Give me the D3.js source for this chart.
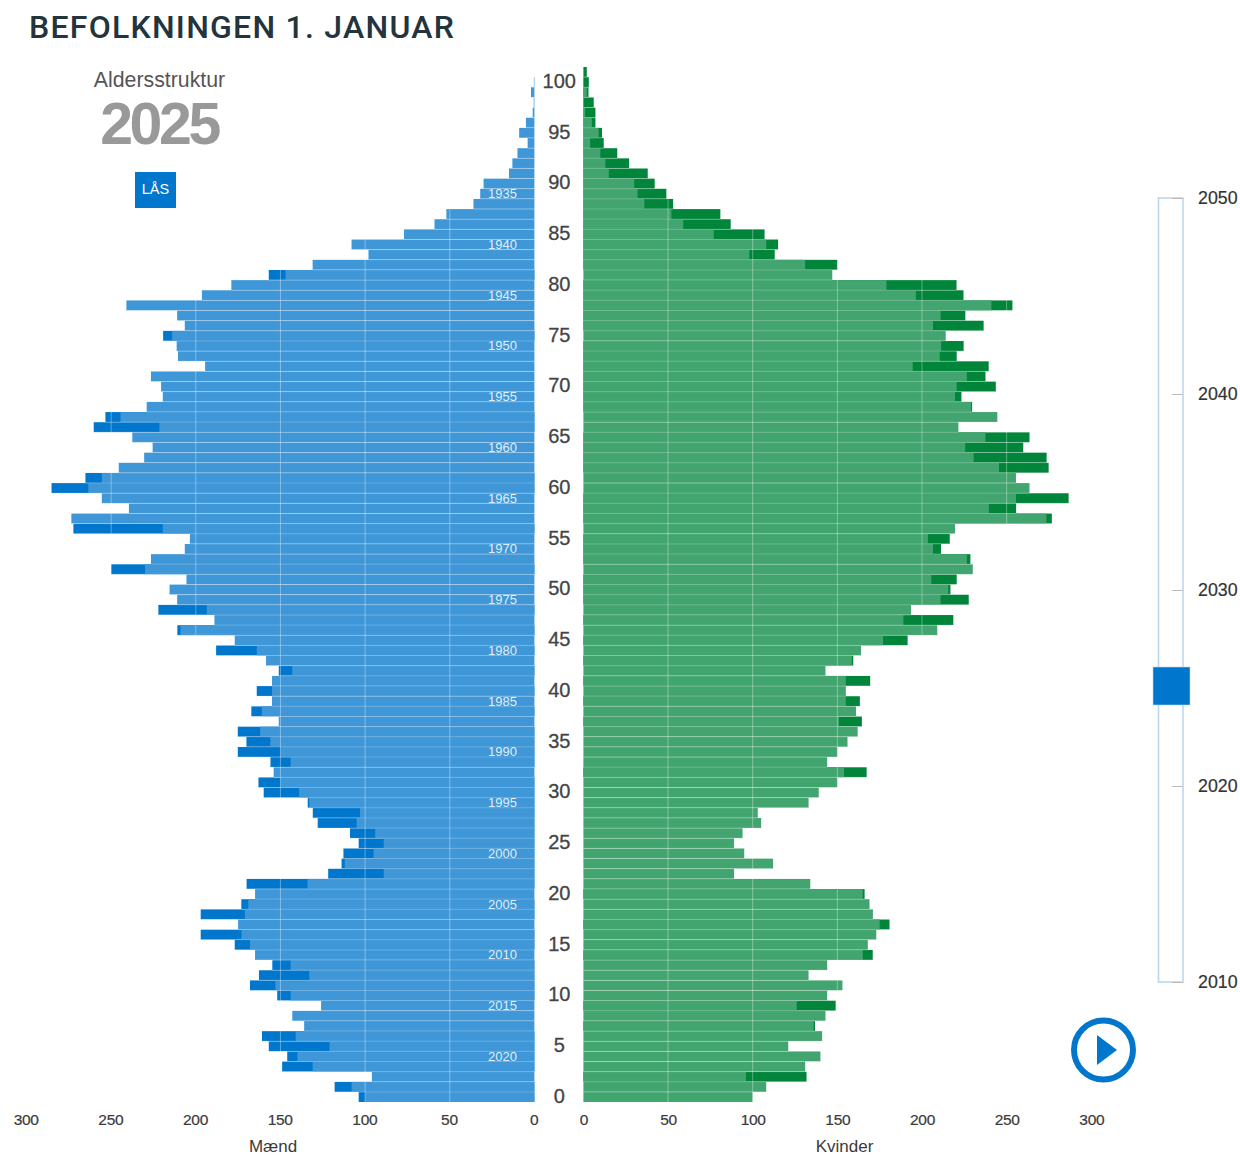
<!DOCTYPE html>
<html lang="da">
<head>
<meta charset="utf-8">
<title>Befolkningen 1. januar</title>
<script src="https://cdn.jsdelivr.net/npm/d3@7"></script>
<style>
  html, body { margin: 0; padding: 0; background: #fff; }
  svg { display: block; }
  text { font-family: "Liberation Sans", Arial, sans-serif; }
</style>
</head>
<body>
<div id="chart"></div>
<script>
// Alle rækker er sorteret efter alder 0..101
const overlay = [
  100, 108, 96, 131, 140, 121, 141, 136, 143, 126,
  144, 153, 133, 144, 165, 168, 173, 175, 171, 169,
  165, 134, 89, 112, 95, 89, 94, 105, 103, 133,
  139, 150, 154, 144, 150, 156, 162, 151, 161, 155,
  155, 155, 143, 158.5, 164, 177, 209, 189, 193.5, 211,
  215.5, 205.5, 230, 226.5, 206.5, 203.5, 219.5, 273.5, 239.5, 255.5,
  263.5, 255.5, 245.5, 230.5, 225.5, 237.5, 221.5, 244.5, 229, 219.5,
  220.5, 226.5, 194.5, 210.5, 211.3, 214, 206.5, 211, 241, 196.4,
  179, 147, 131, 98, 108, 77, 59, 52, 36, 32,
  30, 15, 13, 10, 4, 9, 5, 1, 0.4, 2,
  0.3, 0
];
const males = [
  103.8, 118, 96, 149, 146, 156.9, 160.9, 136, 143, 126,
  151.9, 168, 162.7, 154.8, 165, 177, 197.1, 175, 197.1, 173.1,
  165, 170, 121.8, 113.9, 112.8, 103.8, 108.9, 128, 130.9, 133.9,
  159.9, 163, 154, 155.9, 175.2, 170.1, 175.2, 151, 167.2, 155,
  164, 155, 151, 158.5, 188, 177, 210.9, 189, 222.1, 211,
  215.5, 205.5, 250, 226.5, 206.5, 203.5, 272.3, 273.5, 239.5, 255.5,
  285.2, 265.2, 245.5, 230.5, 225.5, 237.5, 260.3, 253.4, 229, 219.5,
  220.5, 226.5, 194.5, 210.5, 211.3, 219.3, 206.5, 211, 241, 196.4,
  179, 156.9, 131, 98, 108, 77, 59, 52, 36, 32,
  30, 15, 13, 10, 4, 9, 5, 1, 0.4, 2,
  0.3, 0
];
const females = [
  100, 108, 131.8, 131, 140, 121, 141, 136.8, 143, 149,
  144, 153, 133, 144, 170.9, 168, 173, 180.8, 171, 169,
  166.1, 134, 89, 112, 95, 89, 94, 105, 103, 133,
  139, 150, 167.3, 144, 150, 156, 162, 164.5, 161, 163.3,
  155, 169.4, 143, 159.4, 164, 191.5, 209, 218.5, 193.5, 227.6,
  216.8, 220.5, 230, 228.6, 211.2, 216.4, 219.5, 276.7, 255.6, 286.6,
  263.5, 255.5, 274.8, 273.6, 259.8, 263.5, 221.5, 244.5, 229.6, 223.3,
  243.6, 237.5, 239.4, 220.5, 224.6, 214, 236.4, 225.6, 253.4, 224.5,
  220.4, 147, 150, 113, 115, 107, 87, 80.9, 53, 49,
  42.1, 38, 27, 20, 12, 11, 7.1, 7.1, 6.1, 3,
  3.2, 2
];
const ages = d3.range(0, 102);
const ageTicks = d3.range(0, 101, 5);
const birthYears = [1935, 1940, 1945, 1950, 1955, 1960, 1965, 1970, 1975, 1980, 1985, 1990, 1995, 2000, 2005, 2010, 2015, 2020];
const valueTicks = [0, 50, 100, 150, 200, 250, 300];
const sliderTicks = [2010, 2020, 2030, 2040, 2050];
const currentYear = 2025;

const BLUE = "#3f97d8", BLUE_DARK = "#0077cc";
const GREEN = "#42a56f", GREEN_DARK = "#00853a";
const INK = "#3a3a3a";

const svg = d3.select("#chart").append("svg")
  .attr("width", 1240)
  .attr("height", 1156);

// Skalaer
const y = d3.scaleBand().domain(ages).range([1102, 67]).paddingInner(0.02);
const xLeft = d3.scaleLinear().domain([0, 300]).range([534.4, 26.5]);
const xRight = d3.scaleLinear().domain([0, 300]).range([583.4, 1091.3]);
const slider = d3.scaleLinear().domain([2010, 2050]).range([982, 198]);

function drawSide(x, dark, darkColor, lightColor, labelShift) {
  const g = svg.append("g");
  const x0 = x(0);

  // Mørk bjælke ligger under, kun spidsen ses
  g.selectAll(".dark")
    .data(ages.filter(a => dark[a] > overlay[a]))
    .enter().append("rect")
      .attr("class", "dark")
      .attr("x", a => Math.min(x0, x(dark[a])))
      .attr("y", a => y(a))
      .attr("width", a => Math.abs(x(dark[a]) - x0))
      .attr("height", y.bandwidth())
      .attr("fill", darkColor);

  g.selectAll(".light")
    .data(ages.filter(a => overlay[a] > 0))
    .enter().append("rect")
      .attr("class", "light")
      .attr("x", a => Math.min(x0, x(overlay[a])))
      .attr("y", a => y(a))
      .attr("width", a => Math.abs(x(overlay[a]) - x0))
      .attr("height", y.bandwidth())
      .attr("fill", lightColor);

  // Bløde skillelinjer mellem rækkerne
  g.selectAll(".sep")
    .data(ages.filter(a => a > 0))
    .enter().append("line")
      .attr("class", "sep")
      .attr("x1", x0)
      .attr("x2", a => x(Math.max(dark[a], overlay[a])))
      .attr("y1", a => y(a) + y.step() - 0.1)
      .attr("y2", a => y(a) + y.step() - 0.1)
      .attr("stroke", "#fff")
      .attr("stroke-opacity", 0.22);

  // Gitterlinjer ovenpå
  g.selectAll(".grid")
    .data(valueTicks.filter(v => v > 0 && v < 300))
    .enter().append("line")
      .attr("x1", v => x(v)).attr("x2", v => x(v))
      .attr("y1", 67).attr("y2", 1102)
      .attr("stroke", "#fff")
      .attr("stroke-opacity", 0.35);

  const axis = svg.append("g")
    .attr("transform", `translate(${labelShift},1114)`)
    .call(d3.axisBottom(x).tickValues(valueTicks).tickSize(0).tickPadding(0));
  axis.select(".domain").remove();
  axis.selectAll("text")
    .attr("dy", "0.71em")
    .attr("stroke", INK)
    .attr("stroke-width", 0.2)
    .style("font-size", "15.5px")
    .style("letter-spacing", "-0.3px")
    .attr("fill", INK);
}

drawSide(xLeft, males, BLUE_DARK, BLUE, -0.8);
drawSide(xRight, females, GREEN_DARK, GREEN, 0);

// Fødselsår inde i mændenes bjælker
svg.append("g").selectAll("text")
  .data(birthYears)
  .enter().append("text")
    .attr("x", 502.5)
    .attr("y", d => y(2024 - d) + y.bandwidth() / 2)
    .attr("dy", "0.34em")
    .attr("text-anchor", "middle")
    .attr("fill", "#fff")
    .attr("fill-opacity", 0.85)
    .style("font-size", "13px")
    .text(d => d);

// Alder i midten
const ageAxis = svg.append("g")
  .attr("transform", "translate(559.3,0)")
  .call(d3.axisRight(y).tickValues(ageTicks).tickSize(0).tickPadding(0));
ageAxis.select(".domain").remove();
ageAxis.selectAll("text")
  .attr("text-anchor", "middle")
  .attr("x", 0)
  .attr("dy", "0.29em")
  .attr("fill", "#444")
  .attr("stroke", "#444")
  .attr("stroke-width", 0.3)
  .style("font-size", "20px");

svg.append("text").attr("x", 273).attr("y", 1152.2)
  .attr("text-anchor", "middle").attr("fill", INK)
  .style("font-size", "17px").text("Mænd");
svg.append("text").attr("x", 844.5).attr("y", 1152.2)
  .attr("text-anchor", "middle").attr("fill", INK)
  .style("font-size", "17px").text("Kvinder");

// Overskrift og år
svg.append("text").attr("x", 29).attr("y", 38)
  .attr("fill", "#24343c")
  .style("font-family", "Roboto, sans-serif")
  .style("font-weight", 500)
  .style("font-size", "32px")
  .style("letter-spacing", "1.24px")
  .text("BEFOLKNINGEN 1. JANUAR");

svg.append("text").attr("x", 159.5).attr("y", 87)
  .attr("text-anchor", "middle").attr("fill", "#555")
  .style("font-size", "21.3px")
  .text("Aldersstruktur");

svg.append("text").attr("x", 159).attr("y", 144)
  .attr("text-anchor", "middle").attr("fill", "#999")
  .style("font-weight", "bold")
  .style("font-size", "59px")
  .style("letter-spacing", "-3.4px")
  .text(currentYear);

// Lås-knap
svg.append("rect")
  .attr("x", 135).attr("y", 172).attr("width", 41).attr("height", 36)
  .attr("fill", BLUE_DARK);
svg.append("text").attr("x", 155.5).attr("y", 194)
  .attr("text-anchor", "middle").attr("fill", "#fff")
  .style("font-size", "14.5px")
  .text("LÅS");

// Årsskyder
svg.append("rect")
  .attr("x", 1158.5).attr("y", slider(2050)).attr("width", 24.5)
  .attr("height", slider(2010) - slider(2050))
  .attr("fill", "#fff")
  .attr("stroke", "#bcd8ef")
  .attr("stroke-width", 1.6);

const sliderAxis = svg.append("g")
  .attr("transform", "translate(1172,0)")
  .call(d3.axisRight(slider).tickValues(sliderTicks).tickFormat(d3.format("d")).tickSize(11).tickPadding(15));
sliderAxis.select(".domain").remove();
sliderAxis.selectAll("line").attr("stroke", "#bbb");
sliderAxis.selectAll("text")
  .attr("fill", "#333")
  .attr("stroke", "#333")
  .attr("stroke-width", 0.2)
  .style("font-size", "17.8px");

svg.append("rect")
  .attr("x", 1153).attr("y", slider(currentYear) - 21)
  .attr("width", 37).attr("height", 38)
  .attr("fill", BLUE_DARK)
  .attr("stroke", "#bcd8ef")
  .attr("stroke-width", 0.6);

// Afspil-knap
const play = svg.append("g").attr("transform", "translate(1103.5,1050)");
play.append("circle")
  .attr("r", 29.5)
  .attr("fill", "#fff")
  .attr("stroke", BLUE_DARK)
  .attr("stroke-width", 6);
play.append("path")
  .attr("d", d3.line()([[-6.5, -15], [13.5, 0], [-6.5, 15]]) + "Z")
  .attr("fill", BLUE_DARK);
</script>
</body>
</html>
